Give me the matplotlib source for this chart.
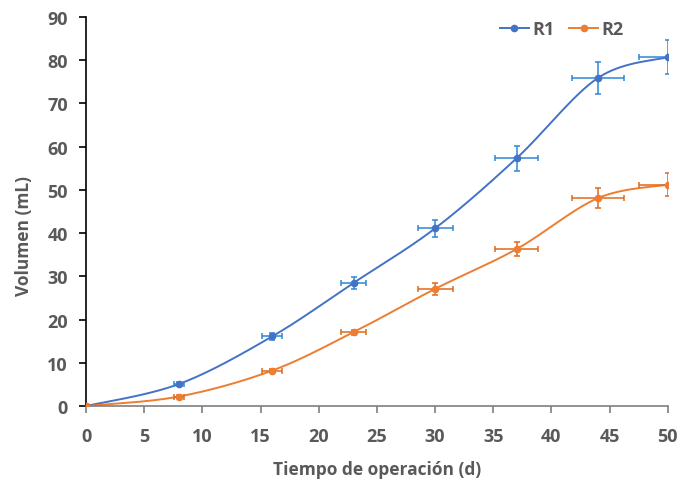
import numpy as np
import matplotlib.pyplot as plt

plt.rcParams['font.family'] = ['Open Sans', 'DejaVu Sans']

# 数据
t = [0, 8, 16, 23, 30, 37, 44, 50]
r1 = [0, 5.1, 16.1, 28.5, 41.1, 57.3, 75.9, 80.7]
r2 = [0, 2.2, 8.2, 17.1, 27.1, 36.3, 48.1, 51.2]
r1_yerr = [0, 0.4, 0.8, 1.4, 2.0, 2.9, 3.8, 4.0]
r2_yerr = [0, 0.3, 0.3, 0.6, 1.35, 1.7, 2.4, 2.6]
t_err = [0, 0.45, 0.85, 1.1, 1.5, 1.85, 2.2, 2.5]

gray = '#595959'


def smooth(x, y, n=40):
    """Excel 风格平滑曲线 (Catmull-Rom 样条)"""
    x = np.asarray(x, float)
    y = np.asarray(y, float)
    px = np.concatenate([[x[0]], x, [x[-1]]])
    py = np.concatenate([[y[0]], y, [y[-1]]])
    xs, ys = [], []
    s = np.linspace(0, 1, n)
    for i in range(1, len(px) - 2):
        p0, p1, p2, p3 = (np.array([px[j], py[j]]) for j in range(i - 1, i + 3))
        c1 = p1 + (p2 - p0) / 6
        c2 = p2 - (p3 - p1) / 6
        b = ((1 - s) ** 3)[:, None] * p1 + (3 * (1 - s) ** 2 * s)[:, None] * c1 \
            + (3 * (1 - s) * s ** 2)[:, None] * c2 + (s ** 3)[:, None] * p2
        xs.append(b[:, 0])
        ys.append(b[:, 1])
    return np.concatenate(xs), np.concatenate(ys)


fig = plt.figure(figsize=(6.8, 4.81), dpi=100)
ax = fig.add_axes([0.1265, 0.1538, 0.8555, 0.8088])

series = [
    ('R1', r1, r1_yerr, '#4472C4', '#2E86D6'),
    ('R2', r2, r2_yerr, '#ED7D31', '#E06A1B'),
]
for name, y, yerr, col, ecol in series:
    sx, sy = smooth(t, y)
    ax.plot(sx, sy, color=col, lw=1.4, zorder=2)
    ax.errorbar(t, y, yerr=yerr, xerr=t_err, fmt='none', ecolor=ecol,
                elinewidth=1.1, capsize=2.5, capthick=1.1, zorder=3)
    ax.plot(t, y, 'o', color=col, ms=4.5, zorder=4)
    ax.plot([], [], '-o', color=col, ms=4.5, lw=1.4, label=name)

ax.set_xlim(0, 50)
ax.set_ylim(0, 90)
ax.set_xticks(range(0, 51, 5))
ax.set_yticks(range(0, 91, 10))

for s in ['top', 'right']:
    ax.spines[s].set_visible(False)
ax.spines['left'].set_color('black')
ax.spines['left'].set_linewidth(1.2)
ax.spines['bottom'].set_color('#7f7f7f')
ax.spines['bottom'].set_linewidth(1.2)
ax.tick_params(axis='y', direction='out', length=5, width=1.2, color='black',
               labelsize=13, labelcolor=gray, pad=8)
ax.tick_params(axis='x', direction='out', length=5, width=1.2, color='#7f7f7f',
               labelsize=13, labelcolor=gray, pad=10)
for lab in ax.get_xticklabels() + ax.get_yticklabels():
    lab.set_fontweight('bold')

ax.set_xlabel('Tiempo de operación (d)', fontsize=12.5, fontweight='bold',
              color=gray)
ax.set_ylabel('Volumen (mL)', fontsize=12.5, fontweight='bold', color=gray)
ax.xaxis.set_label_coords(0.5, -(470 - 407) / (0.8088 * 481),
                          transform=ax.transAxes)
ax.yaxis.set_label_coords(-(86 - 24) / (0.8555 * 680), 0.44,
                          transform=ax.transAxes)
ax.xaxis.label.set_va('center')
ax.yaxis.label.set_va('center')

leg = ax.legend(loc='center', bbox_to_anchor=(562 / 680, 1 - 30 / 481),
                bbox_transform=fig.transFigure, ncol=2, frameon=False,
                fontsize=13, handlelength=1.6, columnspacing=0.8,
                handletextpad=0.2, borderpad=0)
for txt in leg.get_texts():
    txt.set_fontweight('bold')
    txt.set_color(gray)

fig.savefig('out.png', dpi=100)
